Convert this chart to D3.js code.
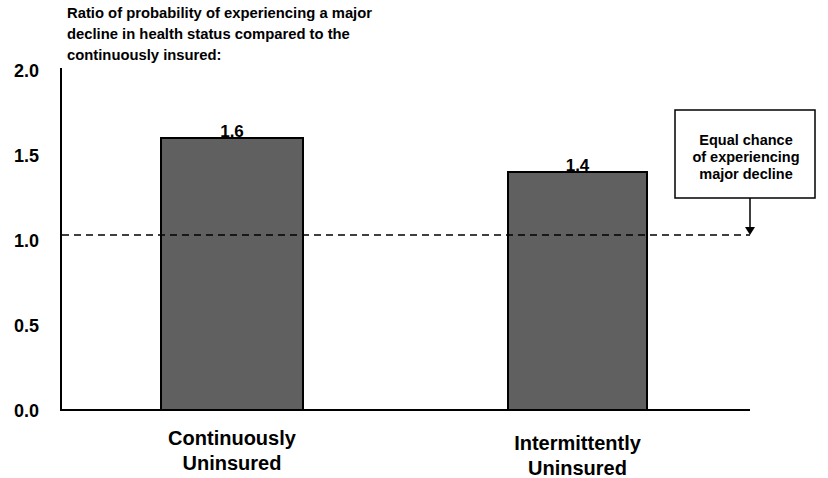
<!DOCTYPE html>
<html><head><meta charset="utf-8">
<script src="https://cdn.jsdelivr.net/npm/d3@7"></script>
<style>body{margin:0;background:#fff}svg{display:block}text{font-family:"Liberation Sans",Arial,sans-serif;font-weight:bold}</style>
</head><body><svg id="c" width="828" height="478"></svg>
<script>
const categories = [["Continuously","Uninsured"],["Intermittently","Uninsured"]];
const values = [1.6, 1.4];
const valueLabels = ["1.6","1.4"];
const yTicks = [0, 0.5, 1.0, 1.5, 2.0];
const refValue = 1.03;
const titleLines = ["Ratio of probability of experiencing a major","decline in health status compared to the","continuously insured:"];
const noteLines = ["Equal chance","of experiencing","major decline"];

const svg = d3.select("#c");
const y = d3.scaleLinear().domain([0,2]).range([410,70]);
const barX = [161, 508], barW = [142, 139];
const xc = d3.scaleOrdinal().domain([0,1]).range(barX);

svg.append("g").selectAll("text").data(titleLines).join("text")
  .attr("x",67).attr("y",(d,i)=>18+i*21).attr("font-size",14.8).text(d=>d);

// value labels
svg.append("g").selectAll("text").data(values).join("text")
  .attr("x",(d,i)=>xc(i)+barW[i]/2).attr("y",d=>y(d)-1)
  .attr("text-anchor","middle").attr("font-size",17).text((d,i)=>valueLabels[i]);

// bars
svg.append("g").selectAll("rect").data(values).join("rect")
  .attr("x",(d,i)=>xc(i)).attr("width",(d,i)=>barW[i])
  .attr("y",d=>y(d)).attr("height",d=>y(0)-y(d))
  .attr("fill","#606060").attr("stroke","#000").attr("stroke-width",2);

// axes
const yAxis = d3.axisLeft(y).tickValues(yTicks).tickFormat(d3.format(".1f")).tickSize(0).tickPadding(22);
const gy = svg.append("g").attr("transform","translate(61,0)").call(yAxis);
gy.select(".domain").remove();
gy.selectAll("text").attr("font-size",18).attr("fill","#000").attr("font-family","Liberation Sans, Arial, sans-serif").attr("font-weight","bold").attr("dy","0.35em");
svg.append("line").attr("x1",61).attr("x2",61).attr("y1",68).attr("y2",y(0)).attr("stroke","#000").attr("stroke-width",2);
svg.append("line").attr("x1",60).attr("x2",750).attr("y1",y(0)).attr("y2",y(0)).attr("stroke","#000").attr("stroke-width",2);

// reference dashed
svg.append("line").attr("x1",62).attr("x2",750).attr("y1",y(refValue)).attr("y2",y(refValue))
  .attr("stroke","#000").attr("stroke-width",1.5).attr("stroke-dasharray","7,5");

// category labels
const catY = [445, 450];
categories.forEach((c,i)=>{
  svg.append("text").attr("x",xc(i)+barW[i]/2).attr("y",catY[i]).attr("text-anchor","middle")
    .attr("font-size",20)
    .selectAll("tspan").data(c).join("tspan").attr("x",xc(i)+barW[i]/2).attr("dy",(d,j)=>j?25:0).text(d=>d);
});

// note box
svg.append("rect").attr("x",675).attr("y",110).attr("width",140).attr("height",88).attr("fill","#fff").attr("stroke","#000").attr("stroke-width",1.5);
svg.append("g").selectAll("text").data(noteLines).join("text")
  .attr("x",746).attr("y",(d,i)=>145+i*17).attr("text-anchor","middle").attr("font-size",14.5).text(d=>d);
svg.append("line").attr("x1",750).attr("x2",750).attr("y1",198).attr("y2",y(refValue)-7).attr("stroke","#000").attr("stroke-width",1.5);
svg.append("path").attr("d",`M745,${y(refValue)-8}L755,${y(refValue)-8}L750,${y(refValue)}Z`).attr("fill","#000");
</script></body></html>
